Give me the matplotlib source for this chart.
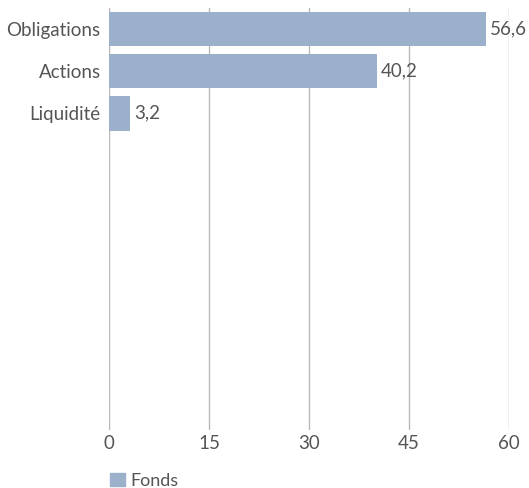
import matplotlib
matplotlib.use("Agg")
import matplotlib.pyplot as plt
from matplotlib.patches import Patch

categories = ["Obligations", "Actions", "Liquidité"]
values = [56.6, 40.2, 3.2]
series_name = "Fonds"
x_ticks = [0, 15, 30, 45, 60]

bar_color = "#9AB0CB"
text_color = "#555555"
n_slots = 10

plt.rcParams["font.family"] = ["Lato", "DejaVu Sans"]

fig = plt.figure(figsize=(5.29, 4.88), dpi=100)
ax = fig.add_axes([0.206, 0.119, 0.756, 0.865])

pos = list(range(len(categories)))
ax.barh(pos, values, height=0.82, color=bar_color, zorder=2)
for p, v in zip(pos, values):
    ax.text(v + 0.6, p, f"{v:.1f}".replace(".", ","), va="center", ha="left",
            fontsize=13.5, color=text_color, zorder=3)

ax.set_xlim(0, 60)
ax.set_ylim(n_slots - 0.5, -0.5)
ax.set_xticks(x_ticks)
ax.set_xticklabels([str(t) for t in x_ticks])
ax.set_yticks(pos)
ax.set_yticklabels(categories)
ax.tick_params(axis="both", length=0, labelsize=13.5, colors=text_color)
ax.tick_params(axis="x", pad=4)
ax.tick_params(axis="y", pad=6)
ax.xaxis.grid(True, color="#b8b8b8", linewidth=1, zorder=0)
for s in ax.spines.values():
    s.set_visible(False)

fig.legend(handles=[Patch(color=bar_color, label=series_name)],
           loc="lower left", bbox_to_anchor=(0.178, -0.035), frameon=False,
           fontsize=13, handlelength=0.8, handleheight=0.8, handletextpad=0.3,
           labelcolor=text_color)

fig.savefig("out.png", dpi=100)
